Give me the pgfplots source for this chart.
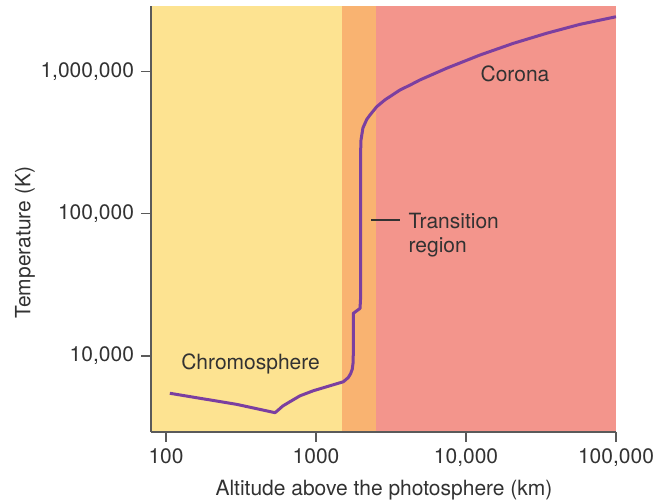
\documentclass[border=0pt]{standalone}
\usepackage{pgfplots}
\pgfplotsset{compat=1.18}
\usepackage{fontspec}
\setmainfont{TeX Gyre Heros}

\definecolor{chromo}{RGB}{253,227,145}
\definecolor{trans}{RGB}{249,179,113}
\definecolor{corona}{RGB}{243,149,140}
\definecolor{curve}{RGB}{123,63,160}
\definecolor{txt}{RGB}{50,50,50}
\definecolor{axisgray}{RGB}{90,90,90}

\newcommand{\fs}{\fontsize{10.5}{12.6}\selectfont}

\begin{document}
\begin{tikzpicture}
\path[use as bounding box] (-75.5pt,-34.5pt) rectangle (255pt,216pt);
\begin{axis}[
    scale only axis,
    width=232.5pt, height=213pt,
    xmode=log, ymode=log,
    xmin=79.4, xmax=100000,
    ymin=2924, ymax=2880000,
    axis lines*=left,
    axis line style={draw=axisgray, line width=0.8pt},
    axis on top,
    xtick={100,1000,10000,100000},
    xticklabels={100,1000,{10,000},{100,000}},
    ytick={10000,100000,1000000},
    yticklabels={{10,000},{100,000},{1,000,000}},
    xminorticks=false, yminorticks=false,
    tick align=outside,
    major tick length=5pt,
    tick style={draw=axisgray, line width=0.8pt},
    tick label style={font=\fs, text=txt},
    xlabel={Altitude above the photosphere (km)},
    ylabel={Temperature (K)},
    label style={font=\fs, text=txt},
    xlabel style={at={(axis description cs:0.501,-0.136)}, anchor=center},
    ylabel style={at={(axis description cs:-0.271,0.444)}, anchor=center, rotate=0},
    clip=true,
]
% background regions
\addplot[fill=chromo, draw=none] coordinates {(79.4,2924) (79.4,2880000) (1500,2880000) (1500,2924)} -- cycle;
\addplot[fill=trans, draw=none] coordinates {(1500,2924) (1500,2880000) (2500,2880000) (2500,2924)} -- cycle;
\addplot[fill=corona, draw=none] coordinates {(2500,2924) (2500,2880000) (100000,2880000) (100000,2924)} -- cycle;

% temperature profile
\addplot[curve, line width=1.5pt, line join=round] coordinates {
    (106,5470) (296,4571) (533,3996) (561,4180) (600,4450) (671,4775)
    (782,5250) (960,5700) (1178,6080) (1521,6590) (1640,7050) (1700,7500)
    (1745,8100) (1765,8900) (1773,10500)
    (1773,19950) (1965,21600) (1980,25000) (1982,252000) (1985,280000)
    (1995,329000) (2054,400000) (2179,460000) (2291,494000) (2540,565000)
    (2884,631000) (3630,740000) (4235,801000)
    (4937,871000) (7430,1052000) (12400,1303000) (20650,1573000)
    (34500,1853000) (57500,2140000) (100000,2420000)
};

% labels
\node[font=\fs, text=txt, anchor=base] at (axis cs:366,7980) {Chromosphere};
\node[font=\fs, text=txt, anchor=base] at (axis cs:21200,847000) {Corona};
\node[font=\fs, text=txt, anchor=base west, inner sep=0pt] at (axis cs:4121,78900) {Transition};
\node[font=\fs, text=txt, anchor=base west, inner sep=0pt] at (axis cs:4121,53200) {region};
\draw[txt, line width=0.7pt] (axis cs:2326,90400) -- (axis cs:3631,90400);
\end{axis}
\end{tikzpicture}
\end{document}
